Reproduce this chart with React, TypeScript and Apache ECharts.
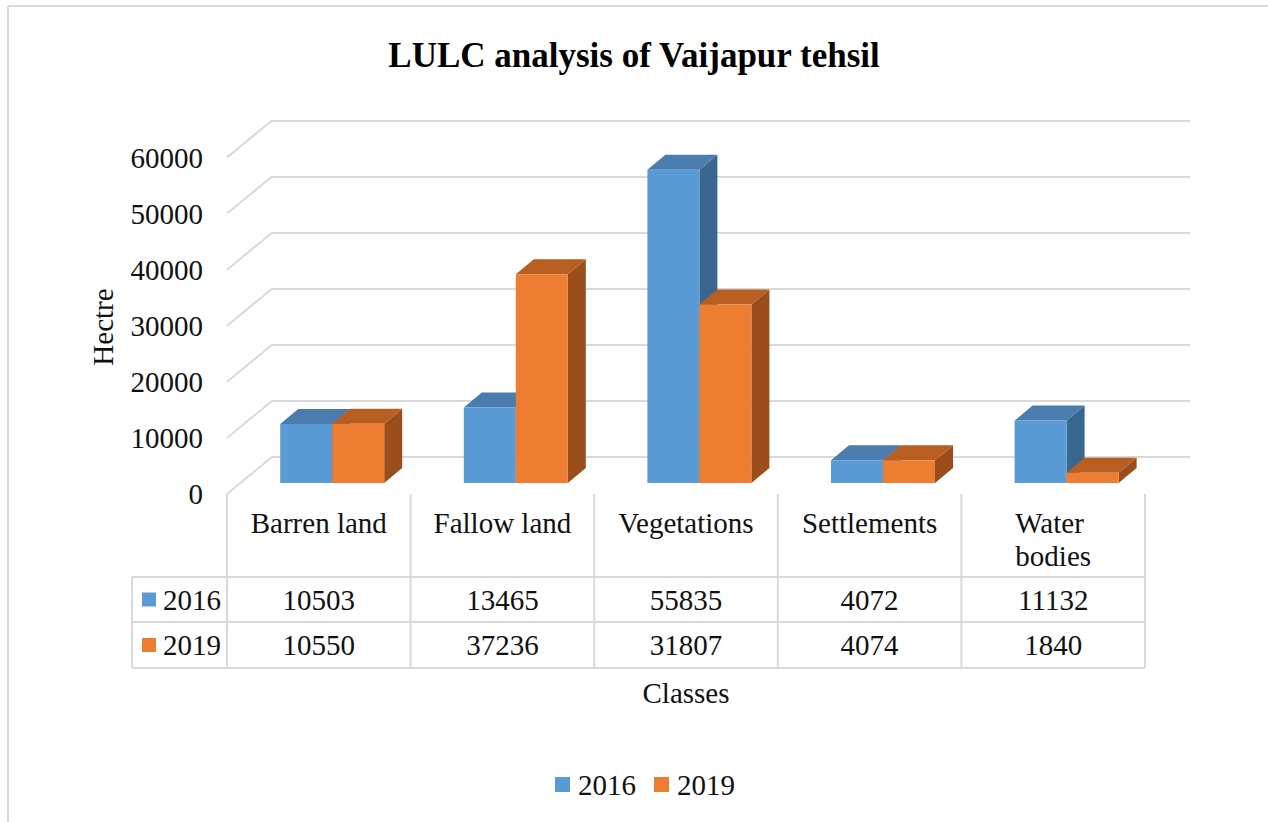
import React, { useEffect, useRef } from "react";
import * as echarts from "echarts";

const TITLE = "LULC analysis of Vaijapur tehsil";
const CATEGORIES = ["Barren land", "Fallow land", "Vegetations", "Settlements", "Water bodies"];
const SERIES_NAMES = ["2016", "2019"];
const VALUES_2016 = [10503, 13465, 55835, 4072, 11132];
const VALUES_2019 = [10550, 37236, 31807, 4074, 1840];
const Y_TICKS = [0, 10000, 20000, 30000, 40000, 50000, 60000];
const Y_AXIS_TITLE = "Hectre";
const X_AXIS_TITLE = "Classes";

const BLUE = "#5B9BD5";
const BLUE_TOP = "#4a7cae";
const BLUE_SIDE = "#3a6790";
const ORANGE = "#ED7D31";
const ORANGE_TOP = "#b95e21";
const ORANGE_SIDE = "#9b4e1b";
const GRID = "#d9d9d9";
const FONT = "'Liberation Serif', 'Times New Roman', serif";
const TXT = "#111";

// geometry
const BACK_LEFT = 272;
const BACK_TOP = 120.5;
const BACK_W = 918;
const BACK_H = 336.5;
const FLOOR_DX = 45;
const FLOOR_DY = 37;
const FRONT_DX = -31.6;
const FRONT_DY = 26;
const DEPTH_DX = 18;
const DEPTH_DY = -15;
const BAR_W = 52;

const TABLE_LEFT = BACK_LEFT - FLOOR_DX; // 227
const COL_W = BACK_W / CATEGORIES.length;
const TABLE_TOP = BACK_TOP + BACK_H + FLOOR_DY; // 494
const ROW1 = 577;
const ROW2 = 622;
const ROW3 = 668;
const HEAD_LEFT = 132;

export default function App() {
  const ref = useRef<HTMLDivElement>(null);
  useEffect(() => {
    if (!ref.current) return;
    const chart = echarts.init(ref.current, null, { renderer: "svg" });

    const makeBar = (sIdx: number) => (params: any, api: any) => {
      const cat = api.value(0);
      const v = api.value(1);
      const top = api.coord([cat, v]);
      const base = api.coord([cat, 0]);
      const cx = top[0] + FRONT_DX;
      const x0 = sIdx === 0 ? cx - BAR_W : cx;
      const x1 = x0 + BAR_W;
      const yT = top[1] + FRONT_DY;
      const yB = base[1] + FRONT_DY;
      const front = sIdx === 0 ? BLUE : ORANGE;
      const topC = sIdx === 0 ? BLUE_TOP : ORANGE_TOP;
      const sideC = sIdx === 0 ? BLUE_SIDE : ORANGE_SIDE;
      return {
        type: "group",
        children: [
          {
            type: "polygon",
            shape: { points: [[x1, yT], [x1 + DEPTH_DX, yT + DEPTH_DY], [x1 + DEPTH_DX, yB + DEPTH_DY], [x1, yB]] },
            style: { fill: sideC },
          },
          {
            type: "polygon",
            shape: { points: [[x0, yT], [x1, yT], [x1 + DEPTH_DX, yT + DEPTH_DY], [x0 + DEPTH_DX, yT + DEPTH_DY]] },
            style: { fill: topC },
          },
          {
            type: "rect",
            shape: { x: x0, y: yT, width: BAR_W, height: yB - yT },
            style: { fill: front },
          },
        ],
      };
    };

    const graphics: any[] = [];
    // outer border
    graphics.push({ type: "line", shape: { x1: 8, y1: 6, x2: 1268, y2: 6 }, style: { stroke: GRID, lineWidth: 2 } });
    graphics.push({ type: "line", shape: { x1: 8, y1: 6, x2: 8, y2: 822 }, style: { stroke: GRID, lineWidth: 2 } });
    // table verticals
    for (let i = 0; i <= CATEGORIES.length; i++) {
      const x = TABLE_LEFT + i * COL_W;
      graphics.push({ type: "line", shape: { x1: x, y1: TABLE_TOP, x2: x, y2: ROW3 }, style: { stroke: GRID, lineWidth: 2 } });
    }
    graphics.push({ type: "line", shape: { x1: HEAD_LEFT, y1: ROW1, x2: HEAD_LEFT, y2: ROW3 }, style: { stroke: GRID, lineWidth: 2 } });
    [ROW1, ROW2, ROW3].forEach((y) =>
      graphics.push({ type: "line", shape: { x1: HEAD_LEFT, y1: y, x2: TABLE_LEFT + BACK_W, y2: y }, style: { stroke: GRID, lineWidth: 2 } })
    );
    // category labels
    CATEGORIES.forEach((c, i) => {
      graphics.push({
        type: "text",
        x: TABLE_LEFT + (i + 0.5) * COL_W,
        y: 506,
        style: {
          text: c,
          width: 146,
          overflow: "break",
          fontSize: 29,
          lineHeight: 33,
          fontFamily: FONT,
          fill: TXT,
          align: "center",
          verticalAlign: "top",
        },
      });
    });
    // rows
    const rows = [
      { name: SERIES_NAMES[0], vals: VALUES_2016, color: BLUE, y0: ROW1, y1: ROW2 },
      { name: SERIES_NAMES[1], vals: VALUES_2019, color: ORANGE, y0: ROW2, y1: ROW3 },
    ];
    rows.forEach((r) => {
      const cy = (r.y0 + r.y1) / 2;
      graphics.push({ type: "rect", shape: { x: 142, y: cy - 7, width: 14, height: 14 }, style: { fill: r.color } });
      graphics.push({
        type: "text",
        x: 163,
        y: cy,
        style: { text: r.name, fontSize: 29, fontFamily: FONT, fill: TXT, align: "left", verticalAlign: "middle" },
      });
      r.vals.forEach((v, i) => {
        graphics.push({
          type: "text",
          x: TABLE_LEFT + (i + 0.5) * COL_W,
          y: cy,
          style: { text: String(v), fontSize: 29, fontFamily: FONT, fill: TXT, align: "center", verticalAlign: "middle" },
        });
      });
    });
    // axis titles
    graphics.push({
      type: "text",
      x: 686,
      y: 693,
      style: { text: X_AXIS_TITLE, fontSize: 29, fontFamily: FONT, fill: TXT, align: "center", verticalAlign: "middle" },
    });
    graphics.push({
      type: "text",
      x: 103,
      y: 327,
      rotation: Math.PI / 2,
      style: { text: Y_AXIS_TITLE, fontSize: 29, fontFamily: FONT, fill: TXT, align: "center", verticalAlign: "middle" },
    });

    chart.setOption({
      animation: false,
      backgroundColor: "#fff",
      title: {
        text: TITLE,
        left: "center",
        top: 33,
        textStyle: { fontSize: 35, fontWeight: "bold", fontFamily: FONT, color: "#000" },
      },
      legend: {
        data: SERIES_NAMES,
        left: 550,
        top: 765,
        icon: "rect",
        itemWidth: 15,
        itemHeight: 15,
        itemGap: 18,
        textStyle: { fontSize: 29, fontFamily: FONT, color: TXT, padding: [0, 0, 0, 3] },
      },
      grid: [
        { left: BACK_LEFT, top: BACK_TOP, width: BACK_W, height: BACK_H },
        { left: TABLE_LEFT, top: BACK_TOP + FLOOR_DY, width: 10, height: BACK_H },
      ],
      xAxis: [
        { type: "category", data: CATEGORIES, gridIndex: 0, show: false },
        { type: "category", data: CATEGORIES, gridIndex: 1, show: false },
      ],
      yAxis: [
        {
          type: "value",
          gridIndex: 0,
          min: 0,
          max: 60000,
          interval: 10000,
          axisLine: { show: false },
          axisTick: { show: false },
          axisLabel: { show: false },
          splitLine: { show: true, lineStyle: { color: GRID, width: 2 } },
        },
        {
          type: "value",
          gridIndex: 1,
          min: 0,
          max: 60000,
          interval: 10000,
          axisLine: { show: false },
          axisTick: { show: false },
          splitLine: { show: false },
          axisLabel: {
            margin: 24,
            fontSize: 29,
            fontFamily: FONT,
            color: TXT,
            formatter: (v: number) => String(v),
          },
        },
      ],
      series: [
        {
          type: "custom",
          name: "grid-diagonals",
          xAxisIndex: 0,
          yAxisIndex: 0,
          silent: true,
          data: Y_TICKS.map((t) => [0, t]),
          encode: { x: 0, y: 1 },
          renderItem: (params: any, api: any) => {
            const y = api.coord([0, api.value(1)])[1];
            const x0 = params.coordSys.x;
            return {
              type: "line",
              shape: { x1: x0 - FLOOR_DX, y1: y + FLOOR_DY, x2: x0, y2: y },
              style: { stroke: GRID, lineWidth: 2 },
            };
          },
        },
        {
          type: "custom",
          name: SERIES_NAMES[0],
          xAxisIndex: 0,
          yAxisIndex: 0,
          itemStyle: { color: BLUE },
          data: VALUES_2016.map((v, i) => [i, v]),
          encode: { x: 0, y: 1 },
          renderItem: makeBar(0),
        },
        {
          type: "custom",
          name: SERIES_NAMES[1],
          xAxisIndex: 0,
          yAxisIndex: 0,
          itemStyle: { color: ORANGE },
          data: VALUES_2019.map((v, i) => [i, v]),
          encode: { x: 0, y: 1 },
          renderItem: makeBar(1),
        },
      ],
      graphic: graphics,
    });
    return () => chart.dispose();
  }, []);
  return <div ref={ref} style={{ position: "fixed", left: 0, top: 0, width: 1268, height: 822 }} />;
}
